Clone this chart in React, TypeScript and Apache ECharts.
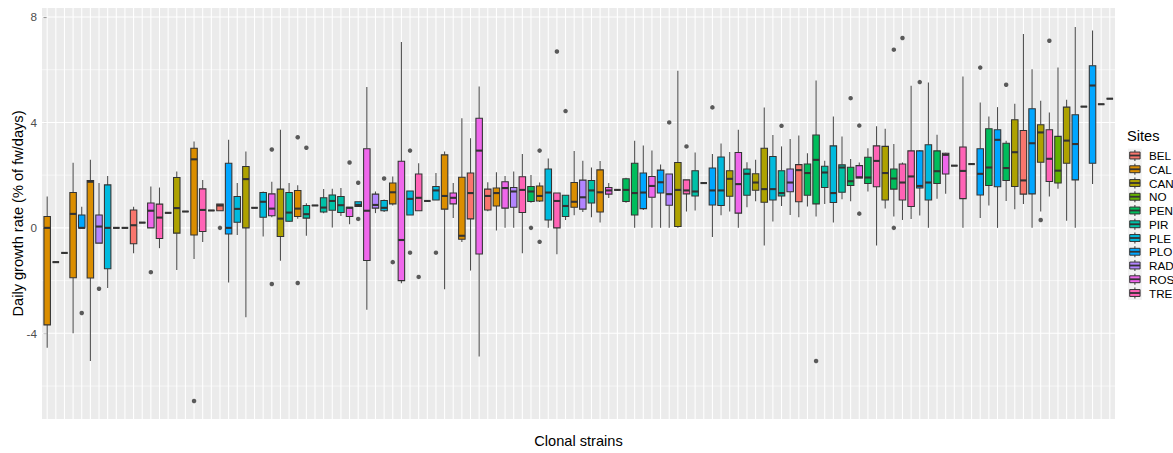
import React, { useEffect, useRef } from "react";
import * as echarts from "echarts";

const sites = ["BEL", "CAL", "CAN", "NO", "PEN", "PIR", "PLE", "PLO", "RAD", "ROS", "TRE"];
const siteColors = ["#F8766D", "#DB8E00", "#AEA200", "#64B200", "#00BD5C", "#00C1A7", "#00BADE", "#00A6FF", "#B385FF", "#EF67EB", "#FF63B6"];

// site of each clonal strain (x order)
const strainSite = [
  "CAL", "CAL", "CAL", "CAL", "PLO", "CAL", "RAD", "PLE", "PLE", "BEL",
  "BEL", "BEL", "ROS", "TRE", "TRE", "CAN", "CAN", "CAL", "TRE", "TRE",
  "BEL", "PLO", "PLE", "CAN", "CAN", "PLE", "ROS", "CAN", "PIR", "CAL",
  "PIR", "PIR", "PIR", "PIR", "PIR", "ROS", "PLE", "ROS", "RAD", "PLE",
  "CAL", "ROS", "PLE", "TRE", "TRE", "PLE", "CAL", "ROS", "CAL", "BEL",
  "ROS", "BEL", "CAL", "ROS", "RAD", "TRE", "PEN", "CAL", "PLE", "TRE",
  "PIR", "CAL", "RAD", "PIR", "CAL", "ROS", "ROS", "PEN", "PEN", "PLO",
  "ROS", "PLO", "RAD", "CAN", "TRE", "PIR", "PIR", "PLO", "PLE", "CAN",
  "ROS", "PIR", "CAN", "CAN", "PLE", "PIR", "RAD", "BEL", "PEN", "PEN",
  "PIR", "PLE", "PIR", "PEN", "ROS", "PEN", "TRE", "CAN", "PEN", "TRE",
  "TRE", "PLO", "PLE", "PEN", "ROS", "ROS", "TRE", "TRE", "PLO", "PEN",
  "PLO", "PEN", "CAN", "BEL", "PLO", "CAN", "TRE", "NO", "CAN", "PLO",
  "PLO", "PLO", "PLO", "PLO"
];

const whiskerLow = [
  -4.55, -1.3, -0.95, -4.0, 0, -5.05, -0.58, -2.28, 0, 0,
  -0.96, 0.2, 0, -0.77, 0.57, -1.6, 0.62, -1.18, -0.54, 0.66,
  0.65, -2.07, -0.27, -3.39, 0.76, -0.33, 0.4, -1.25, 0.22, 0.35,
  -0.3, 0.85, 0.55, 0.01, 0.45, 0.14, 0.81, -3.11, 0.56, 0.6,
  0.85, -2.1, 0.49, 0.65, 1.02, 1.06, -2.33, 0.37, -0.54, -1.62,
  -4.88, 0.63, -0.1, 0, 0, -0.96, 0.95, 0.98, 0, -1.0,
  0.3, 0.48, 0.6, 0.4, 0.2, 1.13, 1.44, 0.95, 0, 0.68,
  0, 0, 0, 0, 0.62, 0.66, 1.7, -0.35, 0.48, 0.62,
  0, 0.78, 1.01, -0.67, 0.24, 0.83, 0.49, 0.4, 0.81, 0.43,
  0.91, 0.2, 1.09, 1.01, 1.89, 1.38, -0.67, 0.73, 0.43, 0.3,
  0.34, 0.47, 0, 1.1, 1.29, 2.36, 0, 2.42, 0.37, 0.85,
  0, 1.02, 0.71, 0.91, 0, 0.62, 1.19, 1.48, 0.27, 0,
  4.6, 1.66, 4.69, 4.9
];

const q1 = [
  -3.68, -1.3, -0.95, -1.89, 0, -1.9, -0.58, -1.55, 0, 0,
  -0.6, 0.2, 0, -0.4, 0.57, -0.2, 0.62, -0.27, -0.14, 0.66,
  0.65, -0.23, 0.21, 0, 0.76, 0.4, 0.46, -0.33, 0.25, 0.43,
  0.37, 0.85, 0.6, 0.67, 0.58, 0.43, 0.81, -1.24, 0.75, 0.65,
  0.91, -2.0, 0.49, 0.65, 1.02, 1.06, 0.71, 0.91, -0.43, 0.34,
  -0.99, 0.68, 0.83, 0.75, 0.78, 0.58, 1.0, 1.02, 0.3, 0,
  0.43, 0.78, 0.71, 0.94, 0.6, 1.28, 1.44, 1.0, 0.49, 0.73,
  1.16, 1.32, 0.86, 0.05, 1.29, 1.21, 1.7, 0.87, 0.85, 1.2,
  0.56, 1.24, 1.43, 0.97, 1.06, 1.21, 1.37, 0.99, 1.24, 0.91,
  1.53, 0.96, 1.35, 1.61, 1.89, 1.68, 1.56, 1.06, 1.47, 1.06,
  0.81, 1.51, 1.06, 1.68, 2.04, 2.36, 1.11, 2.42, 1.25, 1.61,
  1.56, 1.8, 1.57, 1.28, 1.29, 2.49, 1.76, 1.7, 2.45, 1.82,
  4.6, 2.45, 4.69, 4.9
];

const median = [
  0, -1.3, -0.95, 0.53, 0, 1.75, 0.05, 0, 0, 0,
  0.1, 0.2, 0.65, 0.39, 0.57, 0.75, 0.62, 2.6, 0.68, 0.66,
  0.85, 0, 0.72, 1.85, 0.76, 0.99, 0.73, 0.35, 0.58, 0.73,
  0.52, 0.85, 0.77, 1.02, 0.86, 0.76, 0.87, 0.65, 0.87, 0.76,
  1.35, -0.46, 1.1, 1.14, 1.02, 1.42, 1.21, 1.14, -0.3, 1.32,
  2.93, 1.21, 1.32, 1.51, 1.38, 1.44, 1.38, 1.21, 1.34, 1.02,
  0.83, 0.99, 1.16, 1.42, 1.35, 1.42, 1.44, 1.44, 1.32, 1.34,
  1.59, 1.73, 1.28, 1.44, 1.42, 1.38, 1.7, 1.42, 1.42, 1.86,
  1.66, 2.05, 1.72, 1.47, 1.47, 1.32, 1.72, 2.19, 2.08, 2.58,
  2.1, 1.32, 2.29, 1.77, 1.92, 1.91, 2.54, 2.08, 1.87, 1.72,
  1.95, 1.59, 1.72, 2.15, 2.77, 2.36, 2.16, 2.42, 2.05, 2.29,
  3.34, 2.27, 2.87, 1.8, 3.21, 3.62, 2.62, 2.17, 3.31, 3.18,
  4.6, 5.4, 4.69, 4.9
];

const q3 = [
  0.43, -1.3, -0.95, 1.34, 0.49, 1.8, 0.49, 1.63, 0, 0,
  0.68, 0.2, 0.94, 0.9, 0.57, 1.91, 0.62, 3.02, 1.48, 0.66,
  0.9, 2.45, 1.19, 2.33, 0.76, 1.34, 1.29, 1.47, 1.34, 1.42,
  0.85, 0.85, 1.14, 1.25, 1.19, 0.78, 0.99, 3.0, 1.28, 1.04,
  1.7, 2.53, 1.4, 2.04, 1.02, 1.57, 2.77, 1.32, 1.92, 2.08,
  4.16, 1.47, 1.51, 1.75, 1.53, 1.94, 1.57, 1.59, 2.23, 1.32,
  1.24, 1.72, 1.81, 1.8, 2.2, 1.53, 1.44, 1.86, 2.45, 2.08,
  1.95, 2.19, 2.04, 2.48, 1.82, 2.17, 1.7, 2.27, 2.69, 2.17,
  2.86, 2.23, 2.05, 3.02, 2.71, 2.17, 2.23, 2.4, 2.42, 3.52,
  2.34, 3.11, 2.39, 2.3, 2.36, 2.68, 3.11, 3.09, 2.23, 2.42,
  2.92, 2.92, 3.15, 2.92, 2.83, 2.36, 3.07, 2.42, 3.0, 3.76,
  3.72, 3.21, 4.1, 3.69, 4.52, 3.91, 3.72, 3.47, 4.58, 4.29,
  4.6, 6.15, 4.69, 4.9
];

const whiskerHigh = [
  1.19, -1.3, -0.95, 2.47, 0.8, 2.58, 1.7, 1.97, 0, 0,
  0.8, 0.2, 1.57, 1.53, 0.57, 2.14, 0.62, 3.28, 1.82, 0.66,
  0.9, 3.34, 1.7, 2.9, 0.76, 1.38, 1.75, 3.72, 1.7, 1.62,
  0.93, 0.85, 1.47, 1.48, 1.51, 0.78, 0.99, 5.34, 1.38, 1.08,
  1.95, 7.05, 1.4, 2.45, 1.02, 2.08, 2.9, 1.7, 4.16, 3.4,
  5.36, 1.73, 2.11, 1.97, 2.14, 2.8, 2.01, 1.72, 2.63, 1.32,
  1.24, 2.92, 2.55, 2.29, 2.54, 1.7, 1.44, 1.9, 3.3, 3.12,
  2.93, 2.4, 2.04, 5.96, 1.82, 2.86, 1.7, 2.8, 3.2, 2.88,
  3.72, 2.49, 2.58, 4.57, 3.52, 3.09, 3.37, 3.5, 2.83, 5.59,
  2.55, 4.22, 3.47, 2.61, 2.48, 3.02, 3.85, 3.76, 3.18, 2.48,
  5.39, 2.95, 5.51, 3.53, 2.85, 2.36, 5.74, 2.42, 4.76, 4.22,
  4.58, 3.3, 4.71, 7.35, 6.02, 4.82, 4.38, 6.08, 4.86, 7.62,
  4.6, 7.49, 4.69, 4.9
];

// [strain index, value]
const outliers: [number, number][] = [
  [4, -3.23], [6, -2.31], [12, -1.68], [17, -6.57], [20, 0.0], [26, 2.97], [26, -2.13],
  [29, 3.44], [29, -2.09], [30, 3.04], [35, 2.48], [36, 1.71], [36, 0.34], [39, 1.87],
  [40, -1.3], [42, 2.93], [42, -0.94], [43, -1.86], [45, -0.94], [56, 0.0], [57, 2.93],
  [57, -0.53], [59, 6.69], [60, 4.43], [72, 4.0], [74, 3.09], [77, 4.57], [85, 3.87],
  [89, -5.05], [93, 4.92], [94, 3.88], [94, 0.54], [98, 6.76], [98, 0.0], [99, 7.2],
  [101, 5.53], [108, 6.08], [111, 5.43], [115, 0.3], [116, 7.1]
];

const yMajor = [-4, 0, 4, 8];
const yMinor = [-6, -2, 2, 6];

const FONT = "'Liberation Sans', Arial, sans-serif";

export default function App() {
  const ref = useRef<HTMLDivElement>(null);

  useEffect(() => {
    const chart = echarts.init(ref.current!, null, { renderer: "svg" });
    const n = strainSite.length;
    const boxData = strainSite.map((s, i) => [
      i, whiskerLow[i], q1[i], median[i], q3[i], whiskerHigh[i], sites.indexOf(s),
    ]);

    // [orientation (0 = horizontal, 1 = vertical), value, line width]
    const gridData: number[][] = [];
    yMinor.forEach((v) => gridData.push([0, v, 0.55]));
    yMajor.forEach((v) => gridData.push([0, v, 1.07]));
    for (let i = 0; i < n; i++) gridData.push([1, i, 1.07]);

    const legendTop = 155.5;
    const legendStep = 13.75;
    const keyX = 1128;
    const keyS = 13.8;
    const legendEls: any[] = [
      {
        type: "text", x: 1127, y: 136,
        style: { text: "Sites", font: `14.6px ${FONT}`, fill: "#000", align: "left", verticalAlign: "middle" },
      },
    ];
    sites.forEach((s, i) => {
      const cy = legendTop + legendStep * i;
      legendEls.push(
        { type: "rect", shape: { x: keyX, y: cy - keyS / 2, width: keyS, height: keyS }, style: { fill: "#F2F2F2" } },
        { type: "line", shape: { x1: keyX + keyS / 2, y1: cy - keyS * 0.4, x2: keyX + keyS / 2, y2: cy + keyS * 0.4 }, style: { stroke: "#333333", lineWidth: 1 } },
        { type: "rect", shape: { x: keyX + keyS * 0.125, y: cy - keyS * 0.25, width: keyS * 0.75, height: keyS * 0.5 }, style: { fill: siteColors[i], stroke: "#333333", lineWidth: 1 } },
        { type: "line", shape: { x1: keyX + keyS * 0.125, y1: cy, x2: keyX + keyS * 0.875, y2: cy }, style: { stroke: "#333333", lineWidth: 1.8 } },
        { type: "text", x: 1149, y: cy, style: { text: s, font: `11.7px ${FONT}`, fill: "#000", align: "left", verticalAlign: "middle" } }
      );
    });

    const option: any = {
      animation: false,
      backgroundColor: "#FFFFFF",
      grid: {
        left: 42, right: 58, top: 8, bottom: 34,
        show: true, backgroundColor: "#EBEBEB", borderWidth: 0,
      },
      xAxis: {
        type: "value", min: -0.6, max: n - 0.4, show: false,
        splitLine: { show: false },
      },
      yAxis: {
        type: "value", min: -7.25, max: 8.34,
        axisLine: { show: false },
        splitLine: { show: false },
        axisTick: { show: true, customValues: yMajor, length: 3.7, lineStyle: { color: "#333333", width: 1.07 } },
        axisLabel: {
          customValues: yMajor, color: "#4D4D4D", fontSize: 11.7, fontFamily: FONT, margin: 5,
        },
      },
      series: [
        {
          type: "custom", z: 1, silent: true,
          data: gridData,
          dimensions: ["kind", "val", "w"],
          encode: { x: -1, y: -1 },
          renderItem: (params: any, api: any) => {
            const cs = params.coordSys;
            const kind = api.value(0);
            const v = api.value(1);
            const lw = api.value(2);
            if (kind === 0) {
              const y = api.coord([0, v])[1];
              return { type: "line", shape: { x1: cs.x, y1: y, x2: cs.x + cs.width, y2: y }, style: { stroke: "#FFFFFF", lineWidth: lw } };
            }
            const x = api.coord([v, 0])[0];
            return { type: "line", shape: { x1: x, y1: cs.y, x2: x, y2: cs.y + cs.height }, style: { stroke: "#FFFFFF", lineWidth: lw } };
          },
        },
        {
          type: "custom", z: 3, silent: true,
          data: boxData,
          encode: { x: 0, y: [1, 2, 3, 4, 5] },
          renderItem: (params: any, api: any) => {
            const i = api.value(0);
            const lo = api.coord([i, api.value(1)]);
            const a = api.coord([i, api.value(2)]);
            const m = api.coord([i, api.value(3)]);
            const b = api.coord([i, api.value(4)]);
            const hi = api.coord([i, api.value(5)]);
            const w = api.size([0.75, 0])[0];
            const cx = m[0];
            const color = siteColors[api.value(6)];
            return {
              type: "group",
              children: [
                { type: "line", shape: { x1: cx, y1: lo[1], x2: cx, y2: a[1] }, style: { stroke: "#4D4D4D", lineWidth: 1.07 } },
                { type: "line", shape: { x1: cx, y1: b[1], x2: cx, y2: hi[1] }, style: { stroke: "#4D4D4D", lineWidth: 1.07 } },
                { type: "rect", shape: { x: cx - w / 2, y: b[1], width: w, height: a[1] - b[1] }, style: { fill: color, stroke: "#333333", lineWidth: 1.07 } },
                { type: "line", shape: { x1: cx - w / 2, y1: m[1], x2: cx + w / 2, y2: m[1] }, style: { stroke: "#333333", lineWidth: 2.1 } },
              ],
            };
          },
        },
        {
          type: "scatter", z: 4, silent: true,
          data: outliers,
          symbol: "circle", symbolSize: 4.5,
          itemStyle: { color: "#333333" },
        },
      ],
      graphic: [
        {
          type: "text", x: 18, y: 213.5, rotation: Math.PI / 2,
          style: { text: "Daily growth rate (% of fw/days)", font: `14.6px ${FONT}`, fill: "#000", align: "center", verticalAlign: "middle" },
        },
        {
          type: "text", x: 578.5, y: 441,
          style: { text: "Clonal strains", font: `14.6px ${FONT}`, fill: "#000", align: "center", verticalAlign: "middle" },
        },
        ...legendEls,
      ],
    };

    chart.setOption(option);
    return () => chart.dispose();
  }, []);

  return <div ref={ref} style={{ position: "fixed", left: 0, top: 0, width: 1173, height: 453 }} />;
}
